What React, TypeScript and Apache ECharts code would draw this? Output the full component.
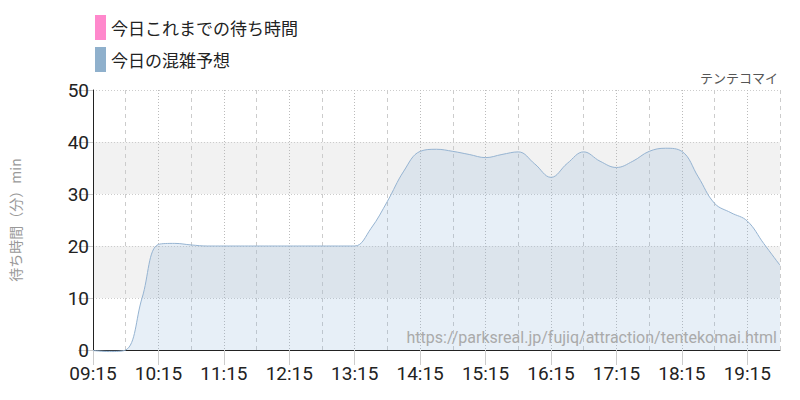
import React, { useEffect, useRef } from "react";
import * as echarts from "echarts";

const times: string[] = [
  "09:15","09:30","09:45","10:00","10:15","10:30","10:45","11:00","11:15","11:30","11:45",
  "12:00","12:15","12:30","12:45","13:00","13:15","13:30","13:45","14:00","14:15","14:30",
  "14:45","15:00","15:15","15:30","15:45","16:00","16:15","16:30","16:45","17:00","17:15",
  "17:30","17:45","18:00","18:15","18:30","18:45","19:00","19:15","19:30","19:45",
];

const forecast: number[] = [
  -0.1, -0.3, 0, 10, 20.3, 20.5, 20.2, 20, 20, 20, 20,
  20, 20, 20, 20, 20, 20, 23.4, 28.6, 34.4, 38.2, 38.6,
  38.2, 37.6, 37.0, 37.6, 38.1, 35.8, 33.2, 35.9, 38.1, 36.3, 35.1,
  36.3, 38.2, 38.8, 38.2, 33.3, 28.2, 26.4, 24.8, 20.5, 16.3,
];

const actual: (number | null)[] = [];

const yTicks = { min: 0, max: 50, interval: 10 };

const legendNames = ["今日これまでの待ち時間", "今日の混雑予想"];
const attractionName = "テンテコマイ";
const sourceUrl = "https://parksreal.jp/fujiq/attraction/tentekomai.html";
const yAxisName = "待ち時間（分）min";

const numFont = "'Roboto', sans-serif";
const jpFont = "'Noto Sans CJK JP', sans-serif";

export default function App() {
  const ref = useRef<HTMLDivElement>(null);
  useEffect(() => {
    document.body.style.margin = "0";
    const chart = echarts.init(ref.current!, null, { renderer: "svg" });
    chart.setOption({
      animation: false,
      backgroundColor: "#fff",
      legend: {
        orient: "vertical",
        left: 95,
        top: 15,
        padding: 0,
        itemWidth: 11,
        itemHeight: 25,
        itemGap: 7,
        icon: "rect",
        textStyle: { fontSize: 17, color: "#222", fontFamily: jpFont },
        data: legendNames,
      },
      grid: { left: 91, right: 20, top: 90, bottom: 50 },
      xAxis: [
        {
          type: "category",
          data: times,
          boundaryGap: false,
          axisLine: { show: true, lineStyle: { color: "#222", width: 1 } },
          axisTick: {
            show: true,
            length: 15,
            interval: (i: number) => i % 4 === 0,
            lineStyle: { color: "#ccc" },
          },
          axisLabel: {
            interval: (i: number) => i % 4 === 0,
            fontSize: 19,
            color: "#222",
            margin: 14,
            fontFamily: numFont,
          },
          splitLine: {
            show: true,
            interval: (i: number) => i % 4 === 0,
            lineStyle: { color: "#bbb", type: [1, 2] },
          },
        },
        {
          type: "category",
          data: times,
          boundaryGap: false,
          position: "bottom",
          axisLine: { show: false },
          axisTick: { show: false },
          axisLabel: { show: false },
          splitLine: {
            show: true,
            interval: (i: number) => i % 4 === 2,
            lineStyle: { color: "#ccc", type: [4, 4] },
          },
        },
      ],
      yAxis: {
        type: "value",
        min: yTicks.min,
        max: yTicks.max,
        interval: yTicks.interval,
        name: yAxisName,
        nameLocation: "middle",
        nameGap: 71,
        nameRotate: 90,
        nameTextStyle: { fontSize: 14, color: "#999", fontFamily: jpFont },
        axisLine: { show: true, lineStyle: { color: "#222", width: 1 } },
        axisTick: { show: true, length: 15, lineStyle: { color: "#ccc" } },
        axisLabel: { fontSize: 19, color: "#222", margin: 4, fontFamily: numFont },
        splitLine: { show: true, lineStyle: { color: "#ccc", type: [1, 2] } },
        splitArea: { show: true, areaStyle: { color: ["#ffffff", "#f2f2f2"] } },
      },
      series: [
        {
          name: legendNames[0],
          type: "line",
          data: actual,
          itemStyle: { color: "#ff88cc" },
          lineStyle: { color: "#ff88cc" },
          showSymbol: false,
        },
        {
          name: legendNames[1],
          type: "line",
          data: forecast,
          smooth: 0.4,
          clip: false,
          showSymbol: false,
          itemStyle: { color: "#8fb0cc" },
          lineStyle: { color: "#96b4d2", width: 1 },
          areaStyle: { color: "rgba(140,178,215,0.3)" },
        },
      ],
      graphic: [
        {
          type: "text",
          x: 778,
          y: 77,
          z: 100,
          style: {
            text: attractionName,
            fontSize: 13,
            fill: "#555",
            fontFamily: jpFont,
            align: "right",
            verticalAlign: "middle",
          },
        },
        {
          type: "text",
          x: 777,
          y: 337,
          z: 100,
          style: {
            text: sourceUrl,
            fontSize: 16,
            fill: "#aaa",
            fontFamily: numFont,
            align: "right",
            verticalAlign: "middle",
          },
        },
      ],
    });
    return () => chart.dispose();
  }, []);
  return <div ref={ref} style={{ width: 800, height: 400 }} />;
}
